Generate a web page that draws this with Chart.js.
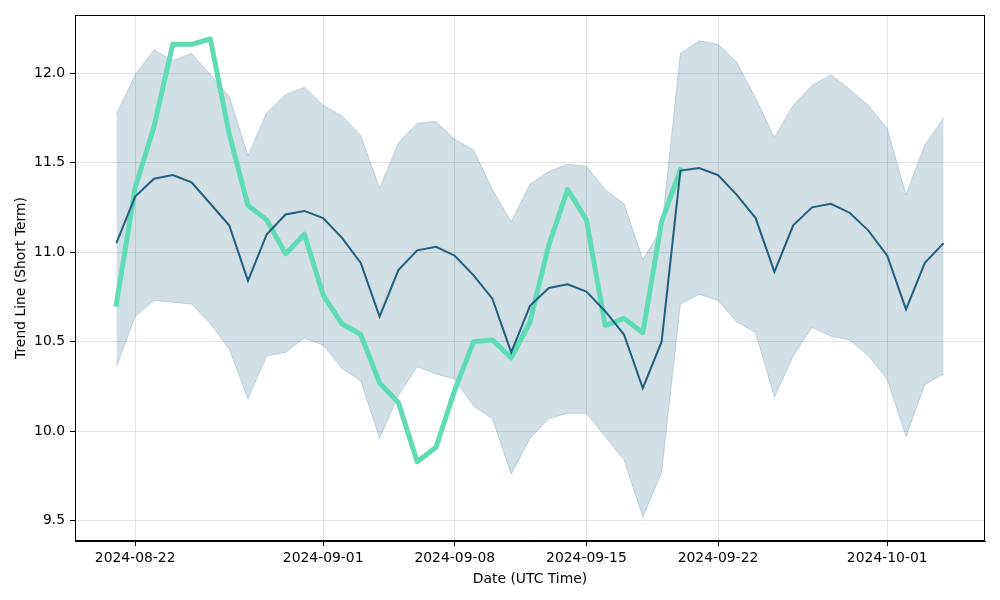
<!DOCTYPE html>
<html>
<head>
<meta charset="utf-8">
<script src="https://cdn.jsdelivr.net/npm/chart.js@4.4.1/dist/chart.umd.min.js"></script>
<style>
  html, body { margin: 0; padding: 0; background: #fff; }
  #chart { display: block; }
</style>
</head>
<body>
<canvas id="chart" width="1000" height="600"></canvas>
<script>
// Daily dates (x categories)
var dates = [
  "2024-08-21", "2024-08-22", "2024-08-23", "2024-08-24", "2024-08-25", "2024-08-26",
  "2024-08-27", "2024-08-28", "2024-08-29", "2024-08-30", "2024-08-31", "2024-09-01",
  "2024-09-02", "2024-09-03", "2024-09-04", "2024-09-05", "2024-09-06", "2024-09-07",
  "2024-09-08", "2024-09-09", "2024-09-10", "2024-09-11", "2024-09-12", "2024-09-13",
  "2024-09-14", "2024-09-15", "2024-09-16", "2024-09-17", "2024-09-18", "2024-09-19",
  "2024-09-20", "2024-09-21", "2024-09-22", "2024-09-23", "2024-09-24", "2024-09-25",
  "2024-09-26", "2024-09-27", "2024-09-28", "2024-09-29", "2024-09-30", "2024-10-01",
  "2024-10-02", "2024-10-03", "2024-10-04"
];

// Trend line (dark)
var trendValues = [
  11.05, 11.31, 11.41, 11.43, 11.39, 11.27, 11.15, 10.84, 11.10, 11.21,
  11.23, 11.19, 11.08, 10.94, 10.64, 10.90, 11.01, 11.03, 10.98, 10.87,
  10.74, 10.44, 10.70, 10.80, 10.82, 10.78, 10.67, 10.54, 10.24, 10.50,
  11.455, 11.47, 11.43, 11.32, 11.19, 10.89, 11.15, 11.25, 11.27, 11.22,
  11.12, 10.98, 10.68, 10.94, 11.05
];

// Actual values (green), stops at 2024-09-20
var actualValues = [
  10.71, 11.36, 11.70, 12.16, 12.16, 12.19, 11.66, 11.26, 11.18, 10.99,
  11.10, 10.76, 10.60, 10.54, 10.27, 10.16, 9.83, 9.91, 10.23, 10.50,
  10.51, 10.41, 10.61, 11.04, 11.35, 11.18, 10.59, 10.63, 10.55, 11.17,
  11.46
];

// Band
var upperValues = [
  11.77, 11.99, 12.13, 12.07, 12.11, 11.99, 11.87, 11.54, 11.78, 11.88,
  11.92, 11.82, 11.76, 11.65, 11.36, 11.61, 11.72, 11.73, 11.63, 11.57,
  11.35, 11.17, 11.38, 11.45, 11.49, 11.48, 11.35, 11.27, 10.96, 11.13,
  12.11, 12.18, 12.16, 12.06, 11.86, 11.64, 11.82, 11.93, 11.99, 11.91,
  11.82, 11.69, 11.32, 11.60, 11.75
];
var lowerValues = [
  10.36, 10.64, 10.73, 10.72, 10.71, 10.60, 10.46, 10.18, 10.42, 10.44,
  10.52, 10.48, 10.35, 10.28, 9.96, 10.20, 10.36, 10.32, 10.29, 10.14,
  10.07, 9.76, 9.96, 10.07, 10.10, 10.10, 9.97, 9.84, 9.52, 9.77,
  10.71, 10.765, 10.73, 10.61, 10.55, 10.19, 10.42, 10.58, 10.53, 10.51,
  10.42, 10.29, 9.97, 10.26, 10.32
];

// Tick labels
var xTickLabels = ["2024-08-22", "2024-09-01", "2024-09-08", "2024-09-15", "2024-09-22", "2024-10-01"];
var yTickValues = [9.5, 10.0, 10.5, 11.0, 11.5, 12.0];

function toPoints(values) {
  return values.map(function (v, i) { return { x: i, y: v }; });
}

var DARK = "#1f5f7f";
var GREEN = "#5fdcb4";
var BAND = "rgba(31, 95, 127, 0.2)";
var GRID = "rgba(176, 176, 176, 0.35)";

Chart.defaults.font.family = "'DejaVu Sans', sans-serif";
Chart.defaults.font.size = 13.9;
Chart.defaults.color = "#000";

// Box around the plot area
var frame = {
  id: "frame",
  afterDraw: function (chart) {
    var a = chart.chartArea;
    var ctx = chart.ctx;
    ctx.save();
    ctx.strokeStyle = "#000";
    ctx.lineWidth = 1;
    ctx.strokeRect(Math.round(a.left) + 0.5, Math.round(a.top) + 0.5,
      Math.round(a.right - a.left) - 1, Math.round(a.bottom - a.top) - 1);
    ctx.restore();
  }
};

new Chart(document.getElementById("chart").getContext("2d"), {
  type: "line",
  data: {
    datasets: [
      {
        label: "Trend",
        data: toPoints(trendValues),
        borderColor: DARK,
        borderWidth: 2,
        pointRadius: 0,
        tension: 0,
        fill: false,
        order: 0
      },
      {
        label: "Actual",
        data: toPoints(actualValues),
        borderColor: GREEN,
        borderWidth: 5,
        borderCapStyle: "square",
        borderJoinStyle: "round",
        pointRadius: 0,
        tension: 0,
        fill: false,
        order: 1
      },
      {
        label: "Upper",
        data: toPoints(upperValues),
        borderColor: BAND,
        backgroundColor: BAND,
        borderWidth: 1,
        pointRadius: 0,
        tension: 0,
        fill: "+1",
        order: 2
      },
      {
        label: "Lower",
        data: toPoints(lowerValues),
        borderColor: BAND,
        backgroundColor: BAND,
        borderWidth: 1,
        pointRadius: 0,
        tension: 0,
        fill: false,
        order: 3
      }
    ]
  },
  options: {
    responsive: false,
    animation: false,
    layout: { padding: { left: 0, right: 15, top: 15, bottom: 0 } },
    plugins: {
      legend: { display: false },
      tooltip: { enabled: false }
    },
    scales: {
      x: {
        type: "linear",
        min: -2.2,
        max: 46.2,
        afterFit: function (scale) { scale.height = 59; },
        afterBuildTicks: function (scale) {
          scale.ticks = xTickLabels.map(function (d) { return { value: dates.indexOf(d) }; });
        },
        ticks: {
          padding: 4,
          maxRotation: 0,
          autoSkip: false,
          callback: function (value) { return dates[value]; }
        },
        grid: { color: GRID, tickColor: "#000", tickLength: 5 },
        border: { display: true, color: "#000" },
        title: {
          display: true,
          text: "Date (UTC Time)",
          padding: { top: 0, bottom: 12 }
        }
      },
      y: {
        min: 9.387,
        max: 12.324,
        afterFit: function (scale) { scale.width = 75; },
        afterBuildTicks: function (scale) {
          scale.ticks = yTickValues.map(function (v) { return { value: v }; });
        },
        ticks: {
          padding: 5,
          callback: function (value) { return value.toFixed(1); }
        },
        grid: { color: GRID, tickColor: "#000", tickLength: 5 },
        border: { display: true, color: "#000" },
        title: {
          display: true,
          text: "Trend Line (Short Term)",
          padding: { top: 13, bottom: 0 }
        }
      }
    }
  },
  plugins: [frame]
});
</script>
</body>
</html>
